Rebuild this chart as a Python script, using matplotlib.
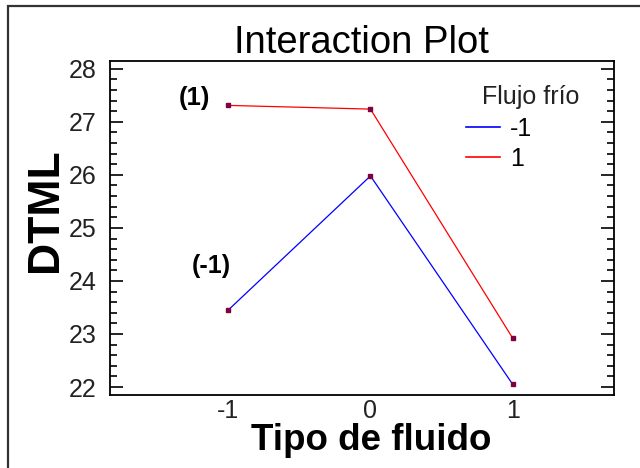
import matplotlib
matplotlib.use("Agg")
from matplotlib import pyplot as plt
from matplotlib.lines import Line2D
from matplotlib.patches import Rectangle
from matplotlib.ticker import MultipleLocator

plt.rcParams['font.family'] = ['Liberation Sans', 'DejaVu Sans']

# datos
tipo_fluido = [-1, 0, 1]
flujo_bajo = [23.45, 25.98, 22.05]   # Flujo frio = -1
flujo_alto = [27.31, 27.24, 22.92]   # Flujo frio = 1
etiquetas_serie = ['-1', '1']
etiquetas_puntos = ['(1)', '(-1)']

fig = plt.figure(figsize=(6.4, 4.68), dpi=100)
ax = fig.add_axes([0.172, 0.156, 0.787, 0.714])

# marco exterior
fig.patches.append(Rectangle((8 / 640, -0.1), 1.0, 1.1 - 6 / 468, transform=fig.transFigure,
                             fill=False, edgecolor='#333333', linewidth=1.6))

ax.plot(tipo_fluido, flujo_bajo, color='#0000ff', linewidth=0.9)
ax.plot(tipo_fluido, flujo_alto, color='#ff0000', linewidth=0.9)
for serie in (flujo_bajo, flujo_alto):
    ax.plot(tipo_fluido, serie, linestyle='none', marker='s', markersize=3.2,
            color='#800040')

ax.text(-1.235, 27.45, etiquetas_puntos[0], fontsize=18.5, fontweight='bold', ha='center', va='center')
ax.text(-1.12, 24.28, etiquetas_puntos[1], fontsize=18, fontweight='bold', ha='center', va='center')

ax.set_xlim(-1.83, 1.71)
ax.set_ylim(21.85, 28.15)
ax.set_xticks(tipo_fluido)
ax.set_xticklabels(['-1', '0', '1'])
ax.yaxis.set_major_locator(MultipleLocator(1))
ax.yaxis.set_minor_locator(MultipleLocator(0.2))
ax.tick_params(axis='x', length=0, labelsize=18, pad=3, labelcolor='#222222')
ax.tick_params(axis='y', which='major', direction='in', length=9.5, width=1.2,
               left=True, right=True, labelsize=18, pad=10, labelcolor='#222222')
ax.tick_params(axis='y', which='minor', direction='in', length=5, width=1.2,
               left=True, right=True)
for s in ax.spines.values():
    s.set_linewidth(1.3)

ax.set_title('Interaction Plot', fontsize=27.5, pad=4)
ax.set_xlabel('Tipo de fluido', fontsize=26.5, fontweight='bold')
ax.xaxis.set_label_coords(0.518, -0.085)
ax.set_ylabel('DTML', fontsize=32, fontweight='bold')
ax.yaxis.set_label_coords(-0.088, 0.554)

# leyenda: titulo aparte para que las lineas queden a la izquierda del titulo
handles = [Line2D([], [], color='#0000ff', linewidth=1.2),
           Line2D([], [], color='#ff0000', linewidth=1.2)]
ax.text(0.835, 0.892, 'Flujo frío', transform=ax.transAxes, fontsize=18,
        ha='center', va='center', color='#222222')
ax.legend(handles, etiquetas_serie, loc='upper left', bbox_to_anchor=(0.706, 0.832),
          frameon=False, fontsize=18, handlelength=1.36, handletextpad=0.4,
          labelspacing=0.25, borderaxespad=0, borderpad=0)

fig.savefig('out.png', dpi=100)
